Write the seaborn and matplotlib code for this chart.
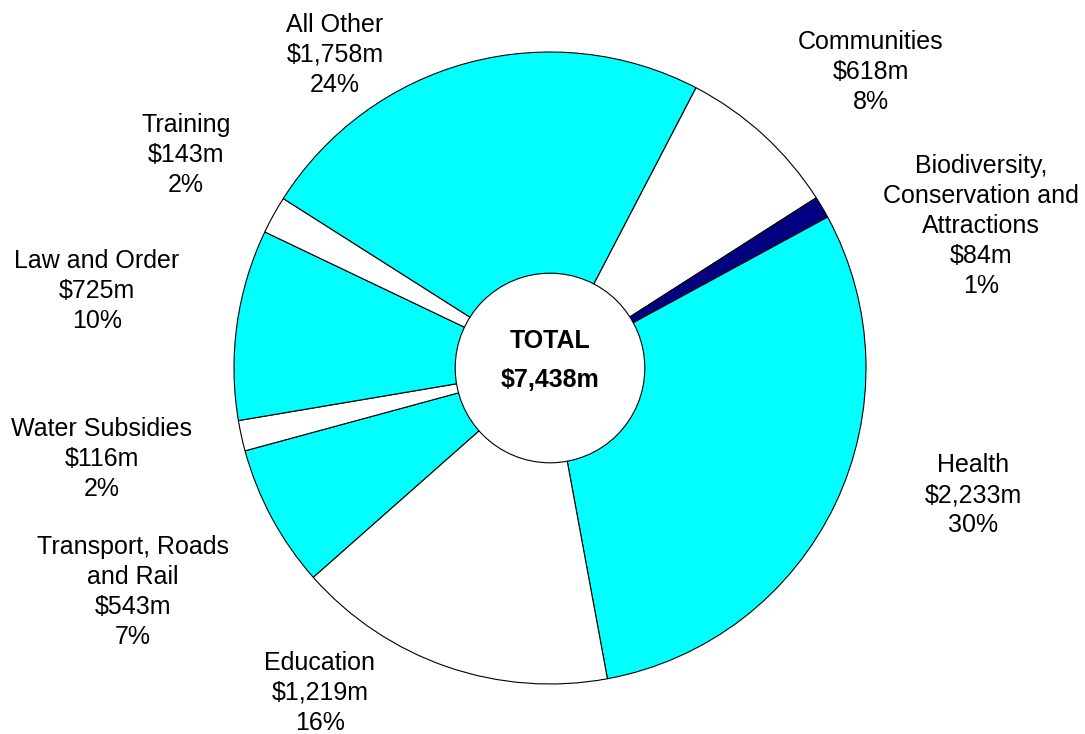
import matplotlib
matplotlib.use("Agg")
import matplotlib.pyplot as plt
import seaborn as sns

# ---- data ----
categories = ["Communities", "Biodiversity,\nConservation and\nAttractions", "Health",
              "Education", "Transport, Roads\nand Rail", "Water Subsidies",
              "Law and Order", "Training", "All Other"]
values = [618, 84, 2233, 1219, 543, 116, 725, 143, 1758]
value_labels = ["$618m", "$84m", "$2,233m", "$1,219m", "$543m", "$116m",
                "$725m", "$143m", "$1,758m"]
pct_labels = ["8%", "1%", "30%", "16%", "7%", "2%", "10%", "2%", "24%"]
total_label = "$7,438m"

# ---- style ----
colors = ["#FFFFFF", "#000080", "#00FFFF", "#FFFFFF", "#00FFFF", "#FFFFFF",
          "#00FFFF", "#FFFFFF", "#00FFFF"]
label_pos = [(1.016, 0.937), (1.364, 0.449), (1.339, -0.402), (-0.728, -1.028),
             (-1.320, -0.709), (-1.418, -0.288), (-1.434, 0.244), (-1.152, 0.674),
             (-0.680, 0.991)]

sns.set_theme(style="white")
plt.rcParams["font.family"] = ["Liberation Sans", "DejaVu Sans"]
plt.rcParams["text.color"] = "black"

fig = plt.figure(figsize=(10.85, 7.34), dpi=100)
ax = fig.add_axes([0, 0, 1, 1])
ax.pie(values, colors=colors, startangle=62.5, counterclock=False, radius=1.0,
       wedgeprops=dict(edgecolor="black", linewidth=0.8))
hole = plt.Circle((0, 0), 0.30, facecolor="white", edgecolor="black", linewidth=0.8, zorder=5)
ax.add_patch(hole)

for cat, v, p, (x, y) in zip(categories, value_labels, pct_labels, label_pos):
    ax.text(x, y, f"{cat}\n{v}\n{p}", ha="center", va="center", fontsize=18,
            linespacing=1.31, color="black")

ax.text(0, 0.025, f"TOTAL\n{total_label}", ha="center", va="center", fontsize=18,
        fontweight="bold", linespacing=1.78, color="black", zorder=6)

ax.set_xlim(-550 / 316, (1085 - 550) / 316)
ax.set_ylim((368 - 734) / 316, 368 / 316)
ax.set_aspect("equal")
ax.axis("off")
fig.savefig("out.png", dpi=100, facecolor="white")
